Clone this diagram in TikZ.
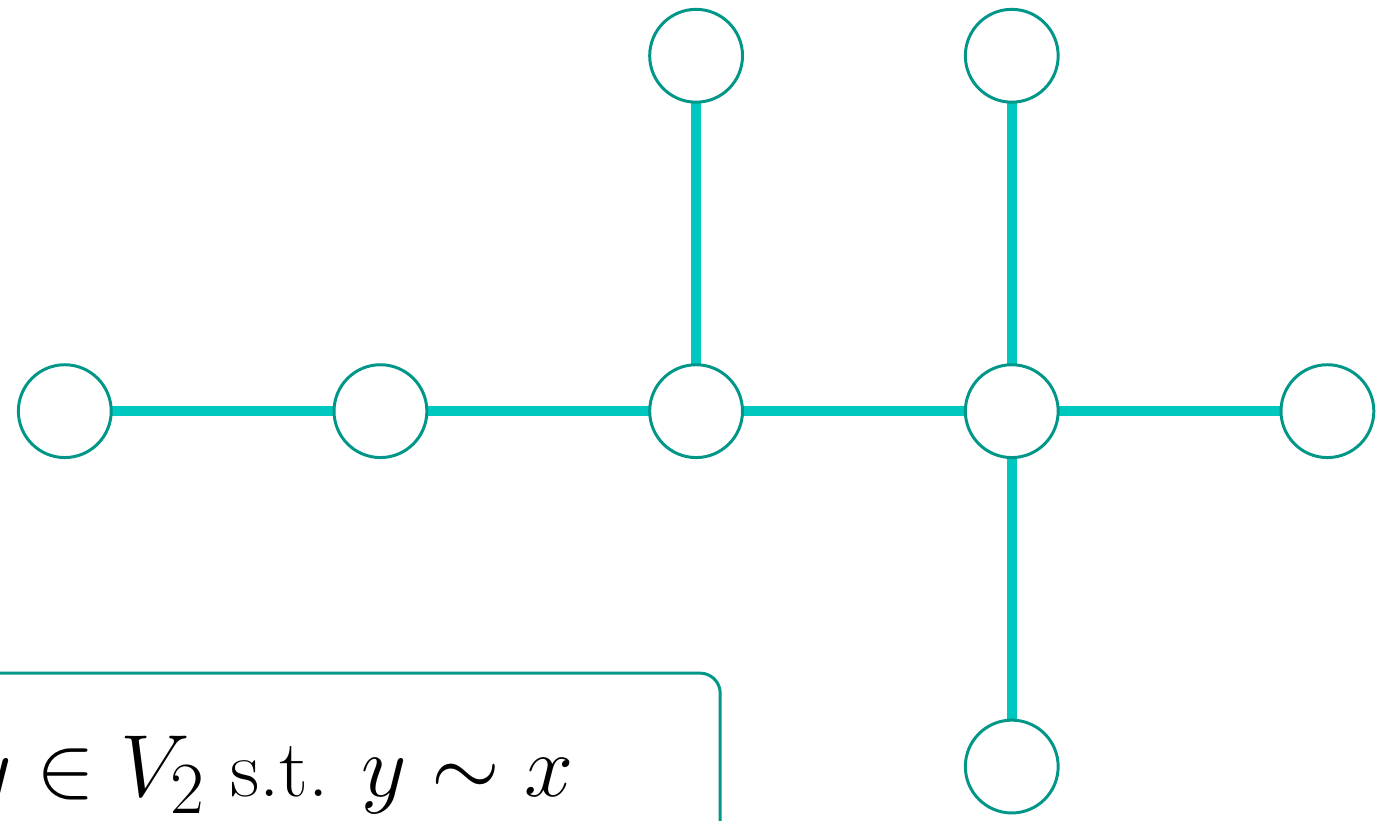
\documentclass[tikz,border=0pt]{standalone}
\usepackage{amsmath}
\usepackage{amsfonts}
\usetikzlibrary{matrix, backgrounds}

\definecolor{vborder}{RGB}{0,150,136}
\definecolor{eline}{RGB}{0,200,190}
\DeclareMathSizes{22.9}{22.9}{19.1}{15.9}

\tikzset{
  vert/.style = {draw=vborder, line width=0.8pt, circle, fill=white, minimum size=25pt, inner sep=0pt},
  tedge/.style = {draw=eline, line width=2.7pt}
}

\begin{document}
\begin{tikzpicture}[x=3cm, y=3cm]
\clip (-0.196,-1.29) rectangle (4.208,1.297);
\matrix (m) [column sep = 59.2pt, row sep = 69.9pt] at (2,0) {
 & & \node[vert](a1){}; & \node[vert](b1){}; & \\
\node[vert](x1){}; & \node[vert](x2){}; & \node[vert](a){}; & \node[vert](b){}; & \node[vert](c){}; \\
 & & & \node[vert](b2){}; & \\
};
\begin{pgfonlayer}{background}
\draw[tedge] (x1.center) -- (x2.center) -- (a.center) -- (b.center) -- (c.center);
\draw[tedge] (a.center) -- (a1.center);
\draw[tedge] (b1.center) -- (b2.center);
\end{pgfonlayer}
% the claim box, running off the page
\draw[vborder, line width=0.8pt, rounded corners=5.4pt] (-0.6,-1.6) rectangle (2.076,-0.8265);
\node[anchor=base east, font=\fontsize{22.9}{27}\selectfont, inner sep=0pt, scale=0.955, transform shape] (claim) at (1.616,-1.216) {$y \in V_2$ s.t. $y \sim x$};
\end{tikzpicture}
\end{document}
